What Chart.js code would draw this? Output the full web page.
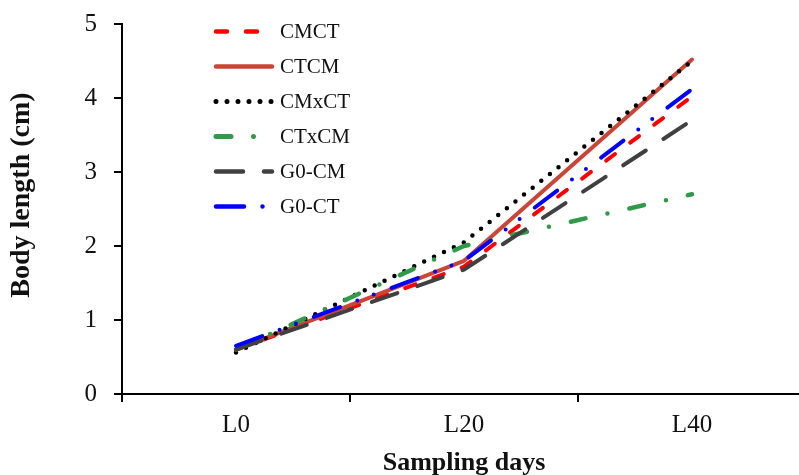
<!DOCTYPE html>
<html>
<head>
<meta charset="utf-8">
<script src="https://cdn.jsdelivr.net/npm/chart.js@4"></script>
<style>
html,body{margin:0;padding:0;background:#fff;overflow:hidden;}
#wrap{width:806px;height:480px;}
</style>
</head>
<body>
<div id="wrap"><canvas id="c" width="806" height="480"></canvas></div>
<script>
const categories = ['L0', 'L20', 'L40'];
const seriesNames = ['CMCT', 'CTCM', 'CMxCT', 'CTxCM', 'G0-CM', 'G0-CT'];
const CMCT  = [0.60, 1.72, 4.02];
const CTCM  = [0.60, 1.80, 4.52];
const CMxCT = [0.56, 2.05, 4.50];
const CTxCM = [0.60, 2.00, 2.70];
const G0_CM = [0.60, 1.68, 3.70];
const G0_CT = [0.65, 1.80, 4.12];
const yTicks = [0, 1, 2, 3, 4, 5];

const FONT = '"Liberation Serif", "Times New Roman", serif';
const styles = [
  {color: '#FF0000', dash: [11, 19], width: 4},
  {color: '#CC4436', dash: [], width: 4},
  {color: '#000000', dash: [0, 11], width: 4.5},
  {color: '#2F9A47', dash: [15, 22.5, 0, 22.5], width: 4.5},
  {color: '#404040', dash: [27, 21], width: 4},
  {color: '#0000FF', dash: [28, 18.5, 0, 17.5, 0, 19], width: 4}
];
const values = [CMCT, CTCM, CMxCT, CTxCM, G0_CM, G0_CT];

const datasets = values.map((v, i) => ({
  label: seriesNames[i],
  data: v,
  borderColor: styles[i].color,
  backgroundColor: styles[i].color,
  borderDash: styles[i].dash,
  borderWidth: styles[i].width,
  borderCapStyle: 'round',
  borderJoinStyle: 'round',
  pointRadius: 0,
  pointHoverRadius: 0,
  tension: 0,
  fill: false,
  order: values.length - i
}));

const legendPlugin = {
  id: 'insideLegend',
  afterDraw(chart) {
    const ctx = chart.ctx;
    const x0 = 214, x1 = 274, tx = 280, y0 = 31.5, dy = 35;
    ctx.save();
    chart.data.datasets.forEach((ds, i) => {
      const y = y0 + i * dy;
      ctx.beginPath();
      ctx.strokeStyle = ds.borderColor;
      ctx.lineWidth = ds.borderWidth + 0.5;
      ctx.lineCap = 'round';
      ctx.setLineDash(ds.borderDash);
      ctx.moveTo(x0 + 2, y);
      ctx.lineTo(x1 - 2, y);
      ctx.stroke();
      ctx.setLineDash([]);
      ctx.fillStyle = '#111';
      ctx.font = '21px ' + FONT;
      ctx.textBaseline = 'middle';
      ctx.textAlign = 'left';
      ctx.fillText(ds.label, tx, y + 1);
    });
    ctx.restore();
  }
};

const shiftTitlePlugin = {
  id: 'shiftYTitle',
  afterLayout(chart) {
    const s = chart.scales.y;
    if (s && !s._patched) {
      const orig = s.drawTitle;
      s.drawTitle = function () {
        const ctx = this.ctx;
        ctx.save();
        ctx.translate(0, -14);
        orig.apply(this, arguments);
        ctx.restore();
      };
      s._patched = true;
    }
  }
};

new Chart(document.getElementById('c'), {
  type: 'line',
  data: {labels: categories, datasets: datasets},
  options: {
    responsive: false,
    animation: false,
    layout: {padding: {top: 24, left: 0, right: 0, bottom: 0}},
    plugins: {legend: {display: false}, tooltip: {enabled: false}},
    scales: {
      x: {
        type: 'category',
        offset: true,
        afterFit(scale) { scale.height = 86; scale.paddingLeft = 0; scale.paddingRight = 0; },
        grid: {display: true, drawOnChartArea: false, drawTicks: true, tickLength: 8, color: '#000', lineWidth: 2, offset: true},
        border: {display: true, color: '#000', width: 2},
        ticks: {color: '#111', font: {family: FONT, size: 25}, padding: 8, maxRotation: 0},
        title: {display: true, text: 'Sampling days', color: '#111', font: {family: FONT, size: 26, weight: 'bold'}, padding: {top: 0, bottom: 1}}
      },
      y: {
        min: 0, max: 5,
        afterFit(scale) { scale.width = 122; scale.paddingTop = 0; scale.paddingBottom = 0; },
        afterBuildTicks(scale) { scale.ticks = yTicks.map(v => ({value: v})); },
        grid: {display: true, drawOnChartArea: false, drawTicks: true, tickLength: 8, color: '#000', lineWidth: 2},
        border: {display: true, color: '#000', width: 2},
        ticks: {color: '#111', font: {family: FONT, size: 25}, padding: 17},
        title: {display: true, text: 'Body length (cm)', color: '#111', font: {family: FONT, size: 28, weight: 'bold'}, padding: {top: 5, bottom: 0}}
      }
    }
  },
  plugins: [legendPlugin, shiftTitlePlugin]
});
</script>
</body>
</html>
